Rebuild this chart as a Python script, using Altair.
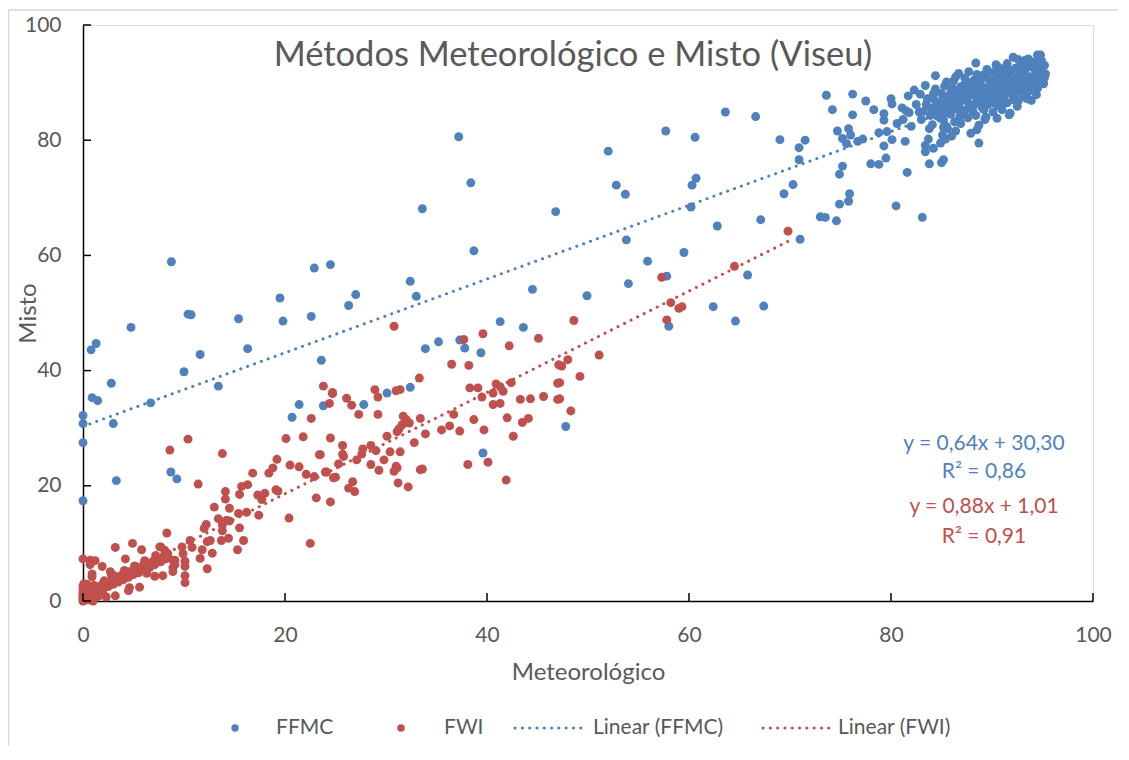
import altair as alt
import pandas as pd

# ---------------- data ----------------
ffmc_points = [
    (0, 32.2), (0, 30.8), (0, 27.5), (0, 17.4), (0.8, 43.6), (1.3, 44.7), (0.9, 35.3), (1.45, 34.8),
    (2.8, 37.8), (3.0, 30.8), (3.3, 20.9), (4.75, 47.5), (6.7, 34.4), (8.75, 58.9), (8.7, 22.4),
    (9.3, 21.2), (10.0, 39.8), (10.4, 49.8), (10.7, 49.7), (11.6, 42.8), (13.4, 37.3), (15.4, 49.0),
    (16.3, 43.8), (19.5, 52.6), (19.8, 48.6), (20.7, 31.9), (21.4, 34.1), (22.6, 49.4), (22.9, 57.8),
    (23.6, 41.8), (23.8, 33.9), (24.5, 58.4), (26.3, 51.3), (27.0, 53.2), (27.8, 34.1), (30.1, 36.1),
    (32.4, 37.1), (32.4, 55.5), (33.0, 52.9), (33.6, 68.1), (33.9, 43.8), (35.2, 45.0), (37.2, 80.6),
    (37.3, 45.3), (37.8, 43.9), (38.4, 72.6), (38.7, 60.8), (39.4, 43.1), (39.6, 25.7), (41.3, 48.5),
    (43.6, 47.5), (44.5, 54.1), (46.8, 67.6), (47.8, 30.3), (49.9, 53.0), (52.0, 78.1), (52.8, 72.2),
    (53.7, 70.6), (53.8, 62.7), (54.0, 55.1), (55.9, 59.0), (57.7, 81.6), (57.8, 56.4), (58.0, 47.7),
    (59.5, 60.5), (60.2, 68.4), (60.3, 72.2), (60.6, 80.5), (60.7, 73.4), (62.4, 51.1), (62.8, 65.1),
    (63.6, 84.9), (64.6, 48.6), (65.8, 56.6), (66.6, 84.1), (67.1, 66.2), (67.4, 51.2), (69.0, 80.1),
    (69.4, 70.7), (70.3, 72.3), (70.9, 78.7), (70.9, 76.6), (71.0, 62.8), (71.5, 80.0), (73.0, 66.7),
    (73.5, 66.6), (73.6, 87.8), (74.2, 85.3), (74.6, 66.0), (74.7, 81.6), (74.9, 74.1), (74.9, 68.9),
    (75.2, 80.3), (75.2, 75.5), (75.6, 79.4), (75.8, 82.0), (75.8, 69.4), (75.9, 70.7), (76.0, 80.9),
    (76.2, 88.0), (76.2, 84.4), (76.7, 79.8), (77.2, 80.2), (77.5, 86.8), (78.0, 75.9), (78.3, 85.3),
    (78.8, 75.8), (78.8, 81.3), (79.3, 84.6), (79.3, 83.5), (79.3, 79.0), (79.5, 76.9), (79.6, 81.5),
    (80.0, 87.2), (80.1, 86.3), (80.1, 80.1), (80.5, 68.6), (81.1, 85.6), (81.4, 79.8), (81.5, 85.1),
    (81.6, 74.4), (81.7, 87.7), (82.3, 88.7), (83.1, 66.6), (83.8, 82.0), (83.7, 80.2), (83.4, 79.1),
    (83.4, 78.0), (84.2, 78.6), (83.8, 75.9), (85.2, 82.2), (85.6, 82.0), (85.1, 80.9), (86.0, 80.7),
    (85.4, 80.2), (84.9, 79.5), (85.0, 76.1), (85.2, 76.6), (88.5, 81.8), (88.7, 79.5), (91.8, 84.7),
    (93.9, 86.9), (88.4, 93.4), (92.1, 94.4), (93.3, 93.9), (94.5, 94.8), (94.8, 94.8), (84.4, 91.2),
    (86.7, 91.6), (87.7, 91.9), (90.7, 92.6), (95.1, 90.0),
    (84.0, 85.5), (84.3, 87.0), (84.6, 84.2), (84.8, 86.3), (85.0, 88.1), (85.2, 83.5), (85.4, 85.9),
    (85.6, 87.4), (85.8, 84.8), (86.0, 86.6), (86.1, 89.0), (86.3, 83.2), (86.5, 85.4), (86.6, 87.8),
    (86.8, 84.1), (87.0, 86.9), (87.1, 88.6), (87.3, 85.2), (87.5, 90.1), (87.6, 83.9), (87.8, 86.3),
    (88.0, 87.9), (88.1, 85.0), (88.3, 89.2), (88.4, 84.3), (88.6, 86.8), (88.8, 88.5), (88.9, 90.6),
    (89.0, 85.7), (89.2, 87.4), (89.3, 83.6), (89.5, 89.1), (89.6, 86.2), (89.8, 88.0), (90.0, 90.3),
    (90.1, 84.9), (90.3, 87.1), (90.4, 89.6), (90.6, 86.0), (90.7, 88.4), (90.9, 91.2), (91.0, 85.3),
    (91.2, 87.7), (91.3, 89.9), (91.5, 86.5), (91.6, 90.8), (91.8, 88.2), (91.9, 92.0), (92.1, 87.0),
    (92.2, 89.3), (92.4, 90.9), (92.5, 85.9), (92.7, 88.6), (92.8, 91.5), (93.0, 89.8), (93.1, 87.5),
    (93.3, 92.3), (93.4, 90.2), (93.6, 88.4), (93.7, 91.0), (93.9, 89.3), (94.0, 92.8), (94.2, 90.6),
    (94.3, 88.9), (94.5, 91.7), (94.6, 93.5), (94.8, 90.3), (94.9, 92.2), (95.0, 91.0), (95.1, 89.8),
    (94.7, 94.2), (93.8, 93.1), (92.9, 93.6), (91.4, 92.6), (90.2, 91.8), (89.1, 91.3), (88.2, 90.4),
    (87.2, 89.5), (86.2, 90.3), (85.3, 89.4), (84.4, 88.9), (83.6, 87.2), (83.2, 85.0), (83.0, 83.6),
    (84.1, 82.7), (85.5, 82.4), (86.9, 82.9), (88.7, 82.6), (90.5, 83.8), (91.7, 84.4), (92.6, 86.8),
    (93.5, 87.2), (94.4, 87.9), (86.4, 81.6), (87.9, 81.2), (89.4, 84.0), (90.8, 89.0), (91.1, 90.0),
    (89.9, 86.7), (88.5, 87.3), (87.4, 87.0), (86.7, 86.1), (85.9, 84.5), (84.9, 83.8), (92.0, 88.0),
    (93.2, 88.7), (94.1, 89.6), (95.0, 92.7), (94.9, 93.8), (93.6, 94.1), (92.3, 92.5), (90.9, 92.0),
    (89.7, 90.5), (88.9, 89.6), (87.7, 88.3), (86.9, 87.6), (85.7, 86.9), (84.7, 85.1), (83.9, 84.3),
    (82.8, 84.9), (82.5, 86.2), (83.4, 89.5), (82.9, 88.0), (81.8, 84.8), (81.2, 83.6), (80.6, 82.9),
    (82.0, 82.4), (95.2, 90.9), (94.5, 89.0), (95.3, 91.5),
    (84.5, 86.0), (85.1, 87.0), (85.9, 88.2), (86.4, 86.9), (86.9, 89.3), (87.4, 88.0), (87.9, 89.5),
    (88.4, 88.0), (88.9, 86.9), (89.4, 88.6), (89.9, 89.4), (90.3, 88.3), (90.8, 87.3), (91.3, 88.9),
    (91.8, 89.5), (92.3, 90.4), (92.8, 89.0), (93.3, 91.2), (93.8, 90.4), (94.3, 92.0), (94.8, 91.6),
    (95.2, 93.0), (85.3, 84.7), (86.2, 85.6), (87.2, 84.6), (88.2, 86.1), (89.2, 85.3), (90.2, 86.5),
    (91.2, 86.6), (92.2, 87.7), (93.2, 89.4), (94.2, 91.0), (86.0, 87.6), (87.6, 86.6), (88.7, 90.0),
    (89.6, 91.9), (90.5, 90.6), (91.4, 91.4), (92.6, 92.6), (93.5, 92.6), (94.0, 93.6), (84.0, 84.5),
    (85.0, 85.2), (86.6, 88.4), (88.0, 88.6), (89.0, 88.2), (90.0, 87.8), (91.0, 88.6), (92.0, 90.1),
    (93.0, 90.8), (94.6, 92.5), (83.5, 86.2), (84.2, 88.1), (85.5, 90.1), (86.4, 91.0), (87.3, 90.8),
    (88.5, 91.4), (89.5, 92.3), (90.4, 93.1), (91.5, 93.3), (92.6, 94.0),
]

fwi_points = [
    (69.8, 64.2), (64.5, 58.1), (57.3, 56.2), (58.2, 51.8), (59.0, 50.8), (59.3, 51.1), (57.8, 48.8),
    (48.6, 48.7), (51.1, 42.7), (47.4, 40.8), (48.0, 41.9), (49.2, 39.0), (47.2, 37.9), (47.2, 35.1),
    (48.3, 33.0), (47.1, 41.0), (30.8, 47.7), (37.7, 45.4), (39.6, 46.4), (42.2, 44.3), (45.1, 45.6),
    (36.5, 41.1), (38.2, 40.9), (33.3, 38.7), (47.0, 37.8), (47.0, 35.0), (42.4, 37.9), (38.3, 37.0),
    (39.1, 37.0), (40.9, 37.7), (41.3, 37.2), (41.6, 36.4), (40.6, 36.1), (39.5, 35.4), (40.6, 34.1),
    (41.3, 34.3), (43.3, 35.0), (44.3, 35.1), (45.6, 35.5), (23.8, 37.3), (24.7, 36.2), (24.4, 34.3),
    (24.7, 36.0), (26.1, 35.2), (26.6, 34.0), (27.3, 32.4), (29.2, 32.4), (28.9, 36.7), (29.2, 35.4),
    (31.0, 36.5), (31.4, 36.7), (31.7, 32.1), (32.0, 31.5), (31.6, 30.6), (31.3, 29.9), (32.3, 30.9),
    (31.1, 29.4), (33.4, 31.7), (33.9, 29.0), (32.8, 27.5), (35.5, 29.7), (36.3, 30.4), (36.7, 32.4),
    (37.3, 29.5), (38.7, 31.5), (39.7, 29.7), (42.0, 31.8), (43.5, 31.0), (44.1, 31.7), (42.6, 28.6),
    (30.1, 28.6), (30.4, 25.9), (31.4, 25.9), (24.5, 28.3), (25.7, 27.0), (25.7, 25.5), (25.8, 25.1),
    (27.7, 26.4), (28.5, 27.0), (29.0, 26.1), (27.6, 25.5), (27.1, 24.5), (28.5, 23.7), (29.8, 24.5),
    (24.1, 22.4), (25.3, 23.8), (25.0, 21.5), (29.3, 22.7), (31.0, 23.4), (31.1, 23.1), (30.8, 22.5),
    (33.4, 22.8), (33.6, 22.9), (38.1, 23.7), (40.1, 24.1), (26.7, 20.7), (26.3, 19.6), (26.9, 19.0),
    (31.2, 20.5), (32.2, 19.8), (41.9, 21.0), (23.5, 25.4),
    (22.6, 31.7), (20.1, 28.2), (21.8, 28.5), (10.4, 28.1), (8.6, 26.2), (13.8, 25.6), (23.4, 25.4),
    (19.2, 24.6), (20.5, 23.6), (21.4, 23.3), (18.8, 23.1), (18.4, 22.2), (16.8, 22.2), (22.1, 22.0),
    (22.9, 21.6), (24.0, 22.4), (11.4, 20.3), (24.8, 21.4), (15.7, 19.9), (16.3, 20.2), (14.1, 19.0),
    (14.1, 17.7), (15.5, 18.5), (17.3, 18.4), (17.7, 17.6), (18.0, 18.7), (19.1, 19.3), (19.3, 19.1),
    (23.1, 17.9), (24.5, 17.2), (13.0, 16.3), (14.5, 16.1), (15.4, 15.2), (16.2, 15.4), (17.4, 14.9),
    (13.4, 14.3), (14.2, 14.0), (14.5, 13.9), (13.8, 13.2), (12.2, 13.3), (12.0, 12.6), (15.5, 12.7),
    (20.4, 14.4), (8.3, 11.8), (13.8, 12.2), (14.4, 10.9), (13.7, 10.5), (12.3, 10.3), (12.6, 10.5),
    (15.9, 10.5), (10.6, 10.5), (22.5, 10.0), (11.8, 8.9), (11.6, 7.4), (12.8, 8.3), (9.8, 9.4),
    (9.9, 8.2), (10.1, 6.9), (10.1, 6.0), (10.1, 3.2), (10.8, 9.3), (15.3, 8.9), (12.3, 5.6), (7.7, 9.4),
    (8.1, 8.1), (8.9, 7.1), (8.9, 5.8), (4.9, 10.0), (5.8, 8.9), (3.2, 9.3), (4.2, 7.3), (0, 7.3),
    (0.7, 7.1), (1.2, 7.0), (1.9, 6.0), (0.9, 4.7), (0.9, 4.2), (2.7, 5.1), (2.8, 4.5), (5.2, 5.0),
    (5.3, 5.9), (7.1, 4.3), (7.9, 4.4), (6.3, 4.8), (10.1, 4.4), (4.6, 2.3), (4.5, 1.8), (3.2, 0.9),
    (5.6, 2.4), (0.7, 6.3), (9.1, 7.1), (9.1, 6.3), (8.9, 5.1), (7.6, 9.4),
    (0, 1.0), (0.36, 1.6), (0.86, 1.9), (1.36, 2.2), (1.85, 2.8), (2.35, 3.1), (2.84, 3.7), (3.34, 3.9),
    (3.83, 4.5), (4.5, 5.1), (5.0, 5.4), (5.5, 5.7), (6.0, 6.3), (6.5, 6.6), (7.0, 7.0), (7.5, 7.4),
    (8.0, 7.8), (8.4, 8.2), (0.5, 1.1), (1.0, 1.4), (1.5, 1.7), (2.0, 2.1), (2.5, 2.5), (3.0, 2.9),
    (3.5, 3.3), (4.0, 3.7), (4.5, 4.1), (5.0, 4.6), (5.5, 4.9), (6.0, 5.4), (6.6, 5.8), (7.1, 6.3),
    (7.7, 6.8), (8.2, 7.3), (1.1, 2.7), (2.1, 3.5), (3.1, 4.4), (4.1, 5.3), (5.1, 6.1), (6.1, 7.0),
    (7.2, 7.9), (8.1, 8.8),
    (0, 0), (0, 0.3), (0, 0.6), (0, 1.5), (0, 2.0), (0, 2.6), (0.1, 0.1), (0.2, 0.4), (0.3, 0.2),
    (0.3, 0.8), (0.4, 1.2), (0.5, 0.5), (0.6, 0.2), (0.7, 1.0), (0.8, 0.4), (0.9, 0.8), (1.0, 0.2),
    (1.2, 0.6), (1.3, 1.0), (0.2, 1.8), (0.5, 2.3), (1.0, 0.0), (1.6, 0.9), (2.0, 1.2), (2.3, 0.7),
    (0.1, 3.0), (0.4, 2.9),
]

trend_series = ["FFMC", "FWI"]
trend_slope = [0.64, 0.88]
trend_intercept = [30.30, 1.01]
trend_xmax = [95.3, 69.8]
equation_texts = ["y = 0,64x + 30,30", "R² = 0,86", "y = 0,88x + 1,01", "R² = 0,91"]
axis_ticks = [0, 20, 40, 60, 80, 100]
legend_labels = ["FFMC", "FWI", "Linear (FFMC)", "Linear (FWI)"]

# ---------------- styling ----------------
BLUE = "#4F81BD"
RED = "#C0504D"
GREY = "#595959"
FONT = "Lato"
W, H = 1010, 576
PT_SIZE = 80
LEG_SIZE = 55

ffmc_df = pd.DataFrame(ffmc_points, columns=["x", "y"])
fwi_df = pd.DataFrame(fwi_points, columns=["x", "y"])

rows = []
for s, m, b, xm in zip(trend_series, trend_slope, trend_intercept, trend_xmax):
    rows.append({"series": s, "x": 0.0, "y": b})
    rows.append({"series": s, "x": xm, "y": m * xm + b})
trend_df = pd.DataFrame(rows)

xs = alt.Scale(domain=[0, 100], nice=False, zero=False)
ys = alt.Scale(domain=[0, 100], nice=False, zero=False)

x_axis = alt.Axis(values=axis_ticks, title="Meteorológico", grid=False, ticks=False, tickSize=0,
                  labelFlush=False, labelOverlap=False,
                  domainColor="black", domainWidth=1.5, labelPadding=23, labelFont=FONT,
                  labelFontSize=21, labelColor=GREY, titleFont=FONT, titleFontSize=24,
                  titleColor=GREY, titleFontWeight="normal", titleX=505, titleY=71,
                  titleBaseline="middle", titleAlign="center")
y_axis = alt.Axis(values=axis_ticks, title="Misto", grid=False, ticks=False, tickSize=0,
                  labelFlush=False, labelOverlap=False,
                  domainColor="black", domainWidth=1.5, labelPadding=22, labelFont=FONT,
                  labelFontSize=21, labelColor=GREY, titleFont=FONT, titleFontSize=24,
                  titleColor=GREY, titleFontWeight="normal", titleX=-55, titleY=288,
                  titleAngle=-90, titleBaseline="middle", titleAlign="center")

ffmc_layer = alt.Chart(ffmc_df).mark_circle(size=PT_SIZE, color=BLUE, opacity=1).encode(
    x=alt.X("x:Q", scale=xs, axis=x_axis),
    y=alt.Y("y:Q", scale=ys, axis=y_axis),
)
fwi_layer = alt.Chart(fwi_df).mark_circle(size=PT_SIZE, color=RED, opacity=1).encode(
    x=alt.X("x:Q", scale=xs), y=alt.Y("y:Q", scale=ys)
)

trend_layers = []
for s, col in zip(trend_series, [BLUE, RED]):
    trend_layers.append(
        alt.Chart(trend_df[trend_df.series == s]).mark_line(
            color=col, strokeWidth=3, strokeCap="round", strokeDash=[0.1, 7.2]
        ).encode(x=alt.X("x:Q", scale=xs), y=alt.Y("y:Q", scale=ys))
    )

# inward tick marks
tick_df = pd.DataFrame({"t": axis_ticks})
xticks = alt.Chart(tick_df).mark_rule(color="black", strokeWidth=1.5).encode(
    x=alt.X("t:Q", scale=xs), y=alt.value(H), y2=alt.value(H - 8)
)
yticks = alt.Chart(tick_df).mark_rule(color="black", strokeWidth=1.5).encode(
    y=alt.Y("t:Q", scale=ys), x=alt.value(0), x2=alt.value(8)
)

# chart border (left/top visible)
border = alt.Chart(pd.DataFrame({"a": [0]})).mark_rect(
    fill="transparent", stroke="#D9D9D9", strokeWidth=1.5
).encode(x=alt.value(-74.5), x2=alt.value(1100), y=alt.value(-15), y2=alt.value(800))

# title
title_layer = alt.Chart(pd.DataFrame({"t": ["Métodos Meteorológico e Misto (Viseu)"]})).mark_text(
    font=FONT, fontSize=34.5, color=GREY, align="center", baseline="alphabetic"
).encode(text="t:N", x=alt.value(490), y=alt.value(41))

# regression equations
eq_df = pd.DataFrame({
    "t": equation_texts,
    "c": [BLUE, BLUE, RED, RED],
    "yy": [425, 453, 488, 518],
})
eq_layer = alt.Chart(eq_df).mark_text(
    font=FONT, fontSize=21, align="center", baseline="alphabetic"
).encode(text="t:N", x=alt.value(901), y=alt.Y("yy:Q", scale=None), color=alt.Color("c:N", scale=None))

# legend (bottom)
LY = 703
leg_dots = alt.Chart(pd.DataFrame({"px": [152, 318], "c": [BLUE, RED]})).mark_circle(
    size=LEG_SIZE, opacity=1
).encode(x=alt.X("px:Q", scale=None), y=alt.value(LY), color=alt.Color("c:N", scale=None))
leg_lines = alt.Chart(pd.DataFrame({"px": [432, 680], "px2": [500, 748], "c": [BLUE, RED]})).mark_rule(
    strokeWidth=3, strokeCap="round", strokeDash=[0.1, 7.2]
).encode(x=alt.X("px:Q", scale=None), x2="px2:Q", y=alt.value(LY),
         color=alt.Color("c:N", scale=None))
leg_text = alt.Chart(pd.DataFrame({"t": legend_labels, "px": [193, 361, 510, 755]})).mark_text(
    font=FONT, fontSize=21, color=GREY, align="left", baseline="middle"
).encode(text="t:N", x=alt.X("px:Q", scale=None), y=alt.value(LY))

chart = alt.layer(
    border, ffmc_layer, fwi_layer, *trend_layers, xticks, yticks,
    title_layer, eq_layer, leg_dots, leg_lines, leg_text
).properties(
    width=W, height=H,
    autosize=alt.AutoSizeParams(type="none"),
    padding={"left": 75, "top": 17, "right": 25, "bottom": 145},
).configure_view(strokeWidth=0).configure(background="white")

chart.save("out.html", embed_options={"renderer": "svg", "actions": False})
